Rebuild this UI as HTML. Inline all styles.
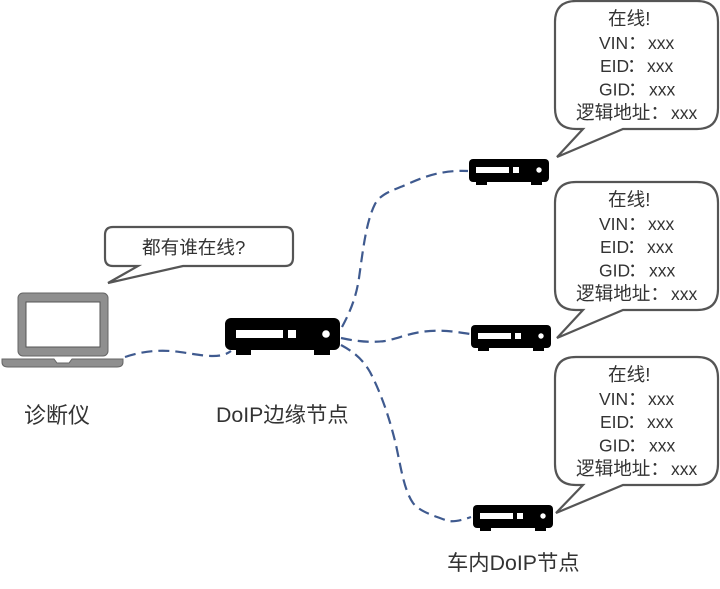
<!DOCTYPE html>
<html><head><meta charset="utf-8"><style>
html,body{margin:0;padding:0;background:#fff}
svg{display:block;filter:blur(.35px)}
text{font-family:"Liberation Sans","Noto Sans CJK SC",sans-serif;font-size:17.5px;fill:#333}
.c{font-size:18.6px}
.l{font-size:22px}
.b{fill:#fff;stroke:#555;stroke-width:2.2}
.d{fill:none;stroke:#3f5a8f;stroke-width:2.2;stroke-dasharray:11 6}
</style></head><body>
<svg width="720" height="589" viewBox="0 0 720 589" xmlns="http://www.w3.org/2000/svg">
<defs>
<g id="r">
<rect x="0" y="0" width="80" height="23" rx="4" fill="#000"/>
<rect x="7" y="22" width="11" height="4" fill="#000"/>
<rect x="62" y="22" width="11" height="4" fill="#000"/>
<rect x="7" y="8" width="33" height="6" fill="#fff"/>
<rect x="44" y="8" width="6" height="6" fill="#fff"/>
<circle cx="70" cy="11" r="2.7" fill="#fff"/>
</g>
<g id="bub">
<path class="b" d="M576 1H697Q718 1 718 22V108Q718 129 697 129H623L557 157L583 129H576Q555 129 555 108V22Q555 1 576 1Z"/>
</g>
<g id="t">
<text class="c" x="608" y="25">在线!</text>
<text x="599" y="49">VIN</text><text class="c" x="628" y="49">：</text><text x="648" y="49">xxx</text>
<text x="600" y="72">EID</text><text class="c" x="627" y="72">：</text><text x="647" y="72">xxx</text>
<text x="599" y="95.5">GID</text><text class="c" x="628" y="95.5">：</text><text x="649" y="95.5">xxx</text>
<text class="c" x="576" y="119">逻辑地址：</text><text x="671" y="119">xxx</text>
</g>
</defs>

<!-- connectors -->
<path class="d" d="M125 357C140 352 155 350 170 351C185 352 200 356 213 356C222 356 227 354 231 351"/>
<path class="d" d="M342 327C350 312 356 298 359 278C363 250 366 222 375 204C382 192 395 190 410 183C428 175 445 170 468 171"/>
<path class="d" d="M341 338C355 341 370 343 385 341C400 338 412 332 430 331C445 330 458 332 470 334"/>
<path class="d" d="M341 345C352 351 362 358 370 372C382 395 390 420 396 445C401 468 404 490 413 503C420 512 435 516 448 521C455 522 462 520 471 517"/>

<!-- laptop -->
<rect x="18" y="293" width="90" height="63" rx="5" fill="#8f8f8f" stroke="#666" stroke-width="1"/>
<rect x="26" y="302" width="74" height="45" fill="#fff" stroke="#555" stroke-width="1"/>
<path d="M2 359H54L57 363H69L72 359H123V362Q123 367 117 367H8Q2 367 2 362Z" fill="#8f8f8f" stroke="#666" stroke-width="1"/>

<!-- big router -->
<rect x="225" y="318" width="115" height="32" rx="6" fill="#000"/>
<rect x="236" y="348" width="15" height="7" fill="#000"/>
<rect x="314" y="348" width="16" height="7" fill="#000"/>
<rect x="236" y="330" width="47" height="8" fill="#fff"/>
<rect x="288" y="330" width="8" height="8" fill="#fff"/>
<circle cx="326" cy="334" r="3.8" fill="#fff"/>

<!-- small routers -->
<use href="#r" x="469" y="159"/>
<use href="#r" x="471" y="325"/>
<use href="#r" x="473" y="505"/>

<!-- top left bubble -->
<path class="b" d="M113 227H285Q293 227 293 235V258Q293 266 285 266H183L108 283L138 266H113Q105 266 105 258V235Q105 227 113 227Z"/>
<text class="c" x="142" y="254">都有谁在线?</text>

<!-- right bubbles -->
<use href="#bub"/>
<use href="#t"/>
<use href="#bub" y="181"/>
<use href="#t" y="181"/>
<path class="b" d="M576 357H697Q718 357 718 378V464Q718 485 697 485H623L556 513L583 485H576Q555 485 555 464V378Q555 357 576 357Z"/>
<use href="#t" y="356"/>

<!-- labels -->
<text class="l" x="24" y="423">诊断仪</text>
<text class="l" x="216" y="422" style="font-size:21.3px">DoIP边缘节点</text>
<text class="l" x="447" y="570" style="font-size:21.3px">车内DoIP节点</text>
</svg>
</body></html>
